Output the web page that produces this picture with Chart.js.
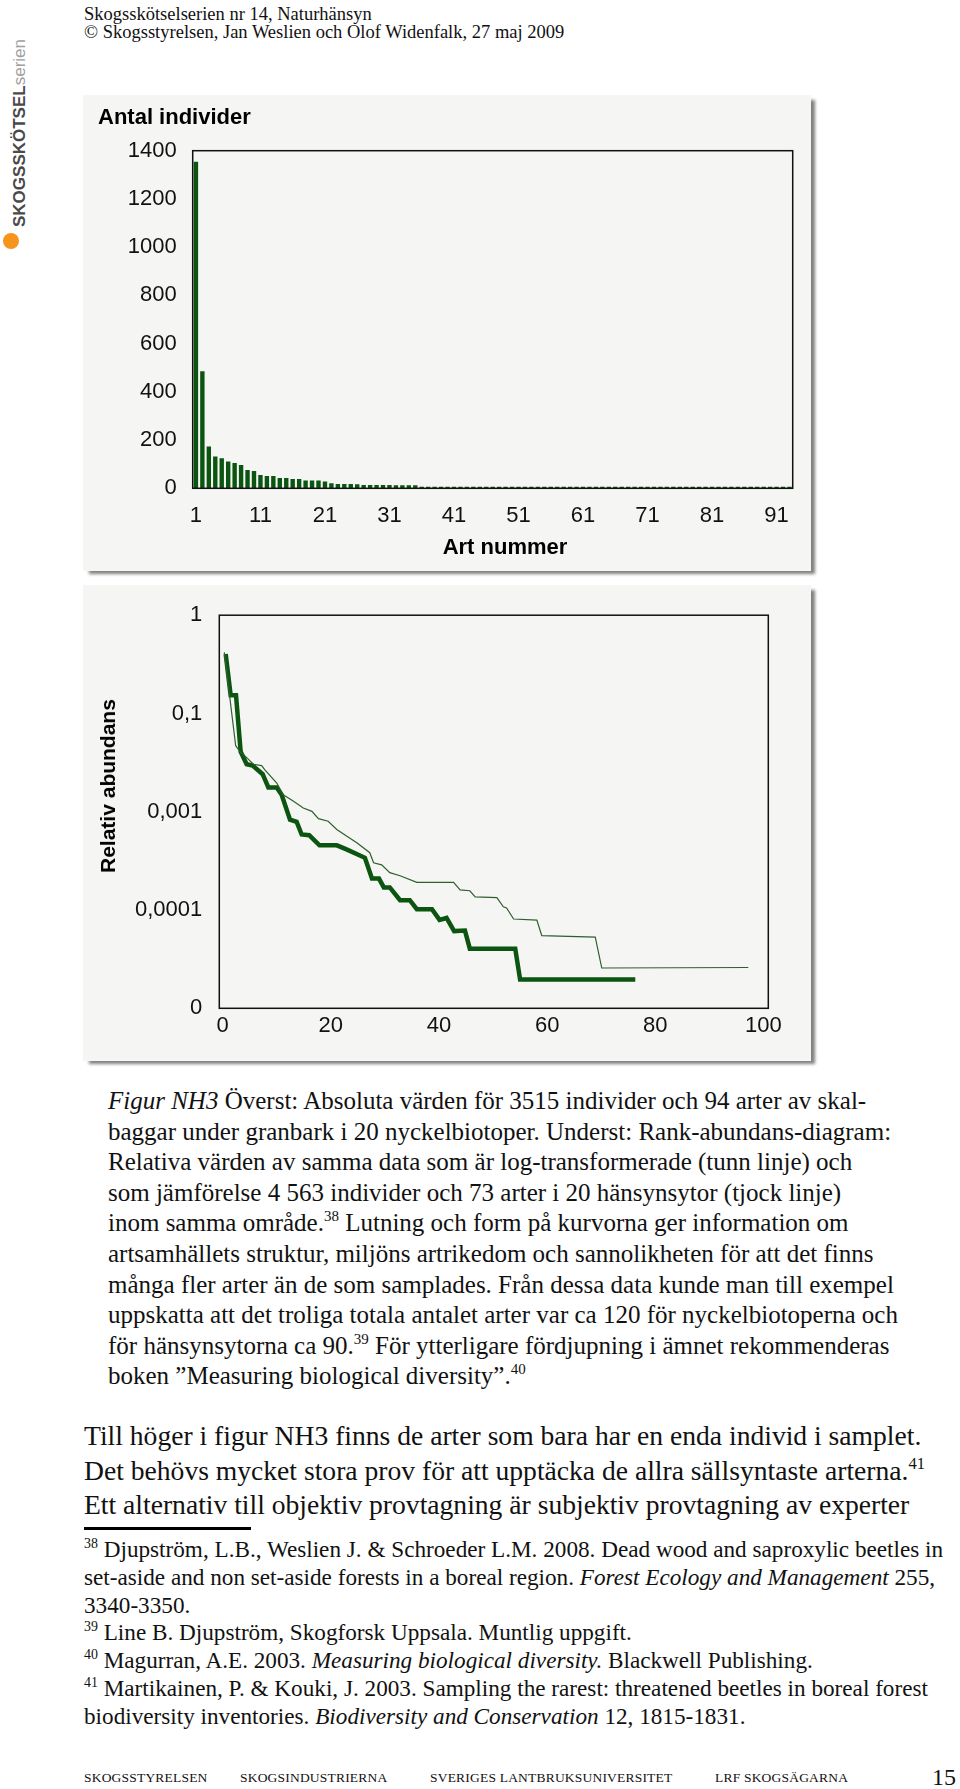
<!DOCTYPE html>
<html>
<head>
<meta charset="utf-8">
<script src="https://cdn.jsdelivr.net/npm/chart.js@4.4.1/dist/chart.umd.min.js"></script>
<style>
  body { margin: 0; background: #fff; width: 960px; height: 1789px; position: relative; overflow: hidden;
         font-family: "Liberation Serif", "Times New Roman", serif; color: #111; }
  .abs { position: absolute; white-space: nowrap; }
  .panel { position: absolute; left: 83px; width: 728px; height: 476px; background: #f5f5f3;
           box-shadow: 5px 4px 3px -1px #808080; }
  .panel canvas { position: absolute; left: 0; top: 0; }
  .axtitle { position: absolute; white-space: nowrap; font-family: "Liberation Sans", Arial, sans-serif;
             font-weight: bold; color: #000; }
  sup { font-size: 0.6em; line-height: 0; vertical-align: 0.65em; }
  .cap div { height: 30.6px; line-height: 30.6px; }
  .main div { height: 34.7px; line-height: 34.7px; }
  .fn div { height: 27.8px; line-height: 27.8px; }
  .foot { font-size: 13.5px; letter-spacing: 0.2px; }
</style>
</head>
<body>

<div class="abs" style="left:84px; top:5px; font-size:18.5px; line-height:18.3px;">
  <div>Skogsskötselserien nr 14, Naturhänsyn</div>
  <div>© Skogsstyrelsen, Jan Weslien och Olof Widenfalk, 27 maj 2009</div>
</div>

<div class="abs" style="left:0; top:0; width:205px; height:20px; transform-origin:0 0;
     transform: translate(10px, 227px) rotate(-90deg); font-family:'Liberation Sans', Arial, sans-serif;
     font-size:17px; line-height:20px; color:#4a4a4a;">
  <b>SKOGSSKÖTSEL</b><span style="color:#a0a0a0;">serien</span>
</div>
<div class="abs" style="left:3px; top:233px; width:16px; height:16px; border-radius:50%; background:#f6941e;"></div>

<div class="panel" style="top:95px;"><canvas id="chartAntal" width="728" height="476"></canvas></div>
<div class="panel" style="top:585px;"><canvas id="chartRelativ" width="728" height="476"></canvas></div>
<div class="axtitle" style="left:505px; top:547px; font-size:22px; transform:translate(-50%,-50%);">Art nummer</div>
<div class="axtitle" style="left:108px; top:786px; font-size:21px; transform:translate(-50%,-50%) rotate(-90deg);">Relativ abundans</div>

<div class="abs cap" style="left:108px; top:1086px; font-size:25px;">
  <div><i>Figur NH3</i> Överst: Absoluta värden för 3515 individer och 94 arter av skal-</div>
  <div>baggar under granbark i 20 nyckelbiotoper. Underst: Rank-abundans-diagram:</div>
  <div>Relativa värden av samma data som är log-transformerade (tunn linje) och</div>
  <div>som jämförelse 4 563 individer och 73 arter i 20 hänsynsytor (tjock linje)</div>
  <div>inom samma område.<sup>38</sup> Lutning och form på kurvorna ger information om</div>
  <div>artsamhällets struktur, miljöns artrikedom och sannolikheten för att det finns</div>
  <div>många fler arter än de som samplades. Från dessa data kunde man till exempel</div>
  <div>uppskatta att det troliga totala antalet arter var ca 120 för nyckelbiotoperna och</div>
  <div>för hänsynsytorna ca 90.<sup>39</sup> För ytterligare fördjupning i ämnet rekommenderas</div>
  <div>boken ”Measuring biological diversity”.<sup>40</sup></div>
</div>

<div class="abs main" style="left:84px; top:1419px; font-size:27.6px;">
  <div>Till höger i figur NH3 finns de arter som bara har en enda individ i samplet.</div>
  <div>Det behövs mycket stora prov för att upptäcka de allra sällsyntaste arterna.<sup>41</sup></div>
  <div>Ett alternativ till objektiv provtagning är subjektiv provtagning av experter</div>
</div>

<div class="abs" style="left:84px; top:1527px; width:167px; height:2.5px; background:#000;"></div>

<div class="abs fn" style="left:84px; top:1536px; font-size:23.2px;">
  <div><sup>38</sup> Djupström, L.B., Weslien J. &amp; Schroeder L.M. 2008. Dead wood and saproxylic beetles in</div>
  <div>set-aside and non set-aside forests in a boreal region. <i>Forest Ecology and Management</i> 255,</div>
  <div>3340-3350.</div>
  <div><sup>39</sup> Line B. Djupström, Skogforsk Uppsala. Muntlig uppgift.</div>
  <div><sup>40</sup> Magurran, A.E. 2003. <i>Measuring biological diversity.</i> Blackwell Publishing.</div>
  <div><sup>41</sup> Martikainen, P. &amp; Kouki, J. 2003. Sampling the rarest: threatened beetles in boreal forest</div>
  <div>biodiversity inventories. <i>Biodiversity and Conservation</i> 12, 1815-1831.</div>
</div>

<div class="abs foot" style="left:84px; top:1770px;">SKOGSSTYRELSEN</div>
<div class="abs foot" style="left:240px; top:1770px;">SKOGSINDUSTRIERNA</div>
<div class="abs foot" style="left:430px; top:1770px;">SVERIGES LANTBRUKSUNIVERSITET</div>
<div class="abs foot" style="left:715px; top:1770px;">LRF SKOGSÄGARNA</div>
<div class="abs" style="right:4px; top:1763px; font-size:24px; line-height:28px;">15</div>

<script>
// top chart: number of individuals per species (rank order)
const artNummer = Array.from({ length: 93 }, (_, i) => String(i + 1));
const antalIndivider = [
	1354, 485, 173, 132, 125, 111, 105, 97, 76, 72,
	55, 51, 51, 43, 43, 39, 39, 32, 32, 32,
	28, 21, 18, 18, 18, 17, 14, 14, 14, 14,
	14, 13, 13, 13, 13, 6, 6, 6, 6, 6,
	6, 6, 6, 6, 6, 6, 6, 6, 6, 6,
	6, 6, 6, 1, 1, 1, 1, 1, 1, 1,
	1, 1, 1, 1, 1, 1, 1, 1, 1, 1,
	1, 1, 1, 1, 1, 1, 1, 1, 1, 1,
	1, 1, 1, 1, 1, 1, 1, 1, 1, 1,
	1, 1, 1
];
const antalTicks = [0, 200, 400, 600, 800, 1000, 1200, 1400];

// bottom chart: rank-abundance, vertices of the two curves
const tunnX = [0.3, 2.4, 3.2, 4.25, 5.67, 7.2, 7.8, 10.0, 11.2, 13.1, 14.9, 16.5, 17.7, 19.5, 21.1, 22.9, 24.8, 27.2,
	27.9, 29.4, 30.9, 32.8, 35.9, 42.7, 43.9, 45.7, 46.7, 50.7, 51.9, 52.5, 53.8, 58.1, 59.0, 68.9, 70.1, 97.2];
const tunnY = [0.419, 0.047, 0.0409, 0.0364, 0.0304, 0.0295, 0.0267, 0.0196, 0.0149, 0.0128, 0.0109, 0.0101, 0.0085,
	0.008, 0.0066, 0.00565, 0.00484, 0.00383, 0.00303, 0.00288, 0.0024, 0.00223, 0.00191, 0.00191, 0.0016, 0.00157,
	0.00136, 0.00134, 0.00108, 0.00105, 0.00081, 0.00079, 0.00055, 0.00053, 0.000257, 0.00026];
const tjockX = [0.55, 1.47, 2.46, 3.32, 4.43, 5.54, 7.39, 8.44, 9.98, 10.9, 12.45, 13.68, 14.6, 16.0, 17.9, 21.1, 22.9,
	26.3, 27.6, 28.9, 29.8, 30.9, 32.8, 34.6, 35.9, 38.7, 40.1, 41.4, 42.8, 44.8, 45.7, 54.1, 55.0, 76.3];
const tjockY = [0.403, 0.153, 0.153, 0.0409, 0.0304, 0.0295, 0.0241, 0.0177, 0.0177, 0.0149, 0.0083, 0.0079, 0.00587,
	0.00578, 0.00455, 0.00455, 0.00414, 0.0034, 0.00209, 0.00209, 0.0017, 0.0017, 0.00126, 0.00126, 0.00102, 0.00102,
	0.000794, 0.00083, 0.00061, 0.000618, 0.000404, 0.000404, 0.000196, 0.000196];
const relativTicks = [0.0001, 0.001, 0.01, 0.1, 1];
const relativLabels = ["0", "0,0001", "0,001", "0,1", "1"];
const artTicks = [0, 20, 40, 60, 80, 100];

const green = "#0b5511";
Chart.defaults.font.family = "'Liberation Sans', Arial, sans-serif";
Chart.defaults.color = "#111";

// black frame round the plot area
const frame = {
	id: "frame",
	afterDraw: chart => {
		const { ctx, chartArea: a } = chart;
		ctx.save();
		ctx.strokeStyle = "#111";
		ctx.lineWidth = 1.5;
		ctx.strokeRect(a.left, a.top, a.right - a.left, a.bottom - a.top);
		ctx.restore();
	}
};

new Chart(document.getElementById("chartAntal"), {
	type: "bar",
	data: {
		labels: artNummer,
		datasets: [{ data: antalIndivider, backgroundColor: green, barPercentage: 0.68, categoryPercentage: 1, minBarLength: 1.5 }]
	},
	options: {
		responsive: false,
		animation: false,
		layout: { padding: { left: 15, right: 18.3, top: 10, bottom: 0 } },
		plugins: {
			legend: { display: false },
			tooltip: { enabled: false },
			title: {
				display: true, text: "Antal individer", align: "start", color: "#000",
				font: { size: 22, weight: "bold" }, padding: { top: 0, bottom: 19.3 }
			}
		},
		scales: {
			x: {
				grid: { display: false, drawTicks: false }, border: { display: false },
				ticks: {
					autoSkip: false, maxRotation: 0, padding: 14, font: { size: 22 },
					callback: (v, i) => (i % 10 === 0 ? artNummer[i] : "")
				},
				afterFit: s => { s.height = 82.7; }
			},
			y: {
				min: 0, max: 1400,
				grid: { display: false, drawTicks: false }, border: { display: false },
				afterBuildTicks: s => { s.ticks = antalTicks.map(v => ({ value: v })); },
				ticks: { padding: 16, font: { size: 22 }, callback: v => String(v) },
				afterFit: s => { s.width = 94.7; }
			}
		}
	},
	plugins: [frame]
});

new Chart(document.getElementById("chartRelativ"), {
	type: "line",
	data: {
		datasets: [
			{
				label: "tunn linje",
				data: tunnX.map((x, i) => ({ x: x, y: tunnY[i] })),
				borderColor: "#2f5f2f", borderWidth: 1.2, pointRadius: 0, tension: 0
			},
			{
				label: "tjock linje",
				data: tjockX.map((x, i) => ({ x: x, y: tjockY[i] })),
				borderColor: green, borderWidth: 4.5, pointRadius: 0, tension: 0
			}
		]
	},
	options: {
		responsive: false,
		animation: false,
		layout: { padding: { left: 0, right: 42.7, top: 27.7, bottom: 0 } },
		plugins: { legend: { display: false }, tooltip: { enabled: false } },
		scales: {
			x: {
				type: "linear", min: -0.63, max: 100.9,
				grid: { display: false, drawTicks: false }, border: { display: false },
				afterBuildTicks: s => { s.ticks = artTicks.map(v => ({ value: v })); },
				ticks: { padding: 4.7, font: { size: 22 } },
				afterFit: s => { s.height = 52.7; }
			},
			y: {
				type: "logarithmic", min: 0.0001, max: 1,
				grid: { display: false, drawTicks: false }, border: { display: false },
				afterBuildTicks: s => { s.ticks = relativTicks.map(v => ({ value: v })); },
				ticks: { padding: 17, font: { size: 22 }, callback: v => relativLabels[relativTicks.indexOf(v)] },
				afterFit: s => { s.width = 136.3; }
			}
		}
	},
	plugins: [frame]
});
</script>
</body>
</html>
